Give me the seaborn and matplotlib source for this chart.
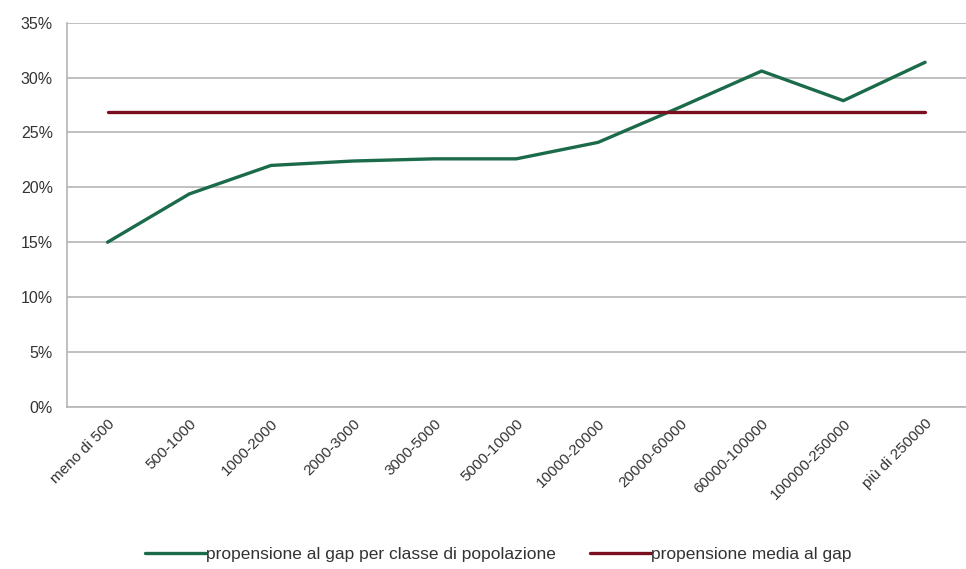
import pandas as pd
import numpy as np
import seaborn as sns
import matplotlib.pyplot as plt
from matplotlib.ticker import PercentFormatter

# Dati
classi = ["meno di 500", "500-1000", "1000-2000", "2000-3000", "3000-5000",
          "5000-10000", "10000-20000", "20000-60000", "60000-100000",
          "100000-250000", "più di 250000"]
propensione = [15.0, 19.4, 22.0, 22.4, 22.6, 22.6, 24.1, 27.3, 30.6, 27.9, 31.4]
media = 26.9

df = pd.DataFrame({"classe": classi, "propensione": propensione,
                   "media": [media] * len(classi)})

sns.set_style("white")
plt.rcParams['font.family'] = ['Liberation Sans', 'DejaVu Sans']

fig = plt.figure(figsize=(9.66, 5.69), dpi=100)
ax = fig.add_axes([0.069, 0.285, 0.931, 0.675])

verde = "#1b6b4a"
rosso = "#7a0f22"

sns.lineplot(data=df, x="classe", y="propensione", color=verde, linewidth=2.4,
             sort=False, ax=ax, label="propensione al gap per classe di popolazione")
sns.lineplot(data=df, x="classe", y="media", color=rosso, linewidth=2.4,
             sort=False, ax=ax, label="propensione media al gap")

ax.set_xlim(-0.5, len(classi) - 0.5)
ax.set_ylim(0, 35)
ax.set_yticks(np.arange(0, 36, 5))
ax.yaxis.set_major_formatter(PercentFormatter(decimals=0))
ax.grid(axis='y', color="#b5b5b5", linewidth=1.2)
ax.set_axisbelow(True)

for s in ["top", "right"]:
    ax.spines[s].set_visible(False)
for s in ["left", "bottom"]:
    ax.spines[s].set_color("#b5b5b5")
    ax.spines[s].set_linewidth(1.2)

ax.set_xlabel("")
ax.set_ylabel("")
ax.tick_params(axis='y', length=0, labelsize=11.5, colors="#333333", pad=10)
ax.tick_params(axis='x', length=0, labelsize=11, colors="#333333", pad=7)
ax.set_xticks(range(len(classi)))
ax.set_xticklabels(classi, rotation=45, ha='right', rotation_mode='anchor')

ax.legend(loc='center', bbox_to_anchor=(0.48, -0.385), ncol=2, frameon=False,
          fontsize=12.5, handlelength=3.5, handletextpad=0.0, columnspacing=2.0,
          labelcolor="#333333")

plt.savefig("out.png", dpi=100)
